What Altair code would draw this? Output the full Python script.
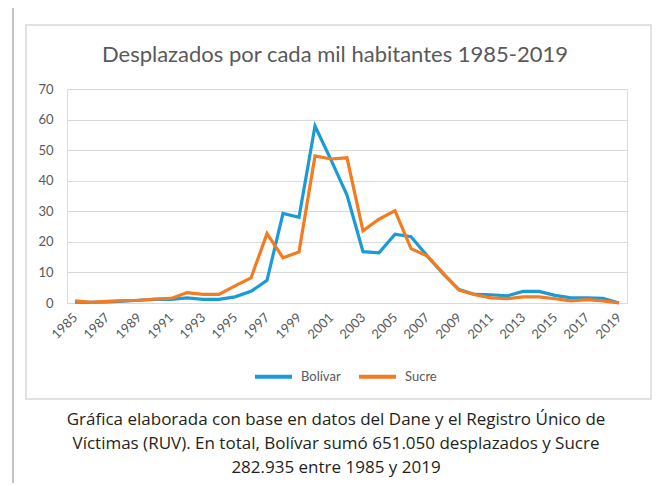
import altair as alt
import pandas as pd

years = list(range(1985, 2020))
bolivar = [0.3, 0.2, 0.4, 0.6, 0.9, 1.2, 1.2, 1.7, 1.2, 1.2, 2.0, 3.8, 7.4, 29.3, 28.0,
           57.9, 46.8, 35.3, 16.8, 16.4, 22.5, 21.7, 15.5, 9.6, 4.4, 2.8, 2.7, 2.3, 3.8,
           3.8, 2.5, 1.7, 1.7, 1.5, 0.0]
sucre = [0.7, 0.2, 0.5, 0.8, 0.9, 1.3, 1.5, 3.4, 2.8, 2.8, 5.6, 8.2, 22.7, 14.8, 16.7,
         48.1, 47.1, 47.5, 23.6, 27.4, 30.2, 17.8, 15.4, 9.8, 4.2, 2.7, 1.7, 1.4, 2.0,
         2.0, 1.4, 0.7, 1.1, 0.7, 0.0]
series_names = ["Bolívar", "Sucre"]
series_colors = ["#1b9ad8", "#f47b20"]
title_text = "Desplazados por cada mil habitantes 1985-2019"
caption_lines = [
    "Gráfica elaborada con base en datos del  Dane y el Registro Único de",
    "Víctimas (RUV). En total, Bolívar sumó 651.050  desplazados y  Sucre",
    "282.935 entre 1985 y 2019",
]

rows = []
for y, b, s in zip(years, bolivar, sucre):
    rows.append({"year": y, "value": b, "serie": "Bolívar"})
    rows.append({"year": y, "value": s, "serie": "Sucre"})
df = pd.DataFrame(rows)

W, H = 560, 214
FONT = "Lato"
GRAY = "#595959"

lines = alt.Chart(df).mark_line(strokeWidth=3.2).encode(
    x=alt.X("year:O",
            scale=alt.Scale(type="point", padding=0.5),
            axis=alt.Axis(values=years[::2], labelAngle=-45, labelAlign="right",
                          labelBaseline="middle", labelPadding=12, ticks=False,
                          domain=True, domainColor="#d9d9d9", grid=False,
                          labelFont=FONT, labelFontSize=13, labelColor=GRAY,
                          title=None)),
    y=alt.Y("value:Q",
            scale=alt.Scale(domain=[0, 70], nice=False),
            axis=alt.Axis(values=list(range(0, 71, 10)), ticks=False, domain=False,
                          gridColor="#d9d9d9", gridWidth=1, labelPadding=14,
                          labelFont=FONT, labelFontSize=13, labelColor=GRAY,
                          title=None)),
    color=alt.Color("serie:N",
                    scale=alt.Scale(domain=series_names, range=series_colors),
                    legend=alt.Legend(orient="none", legendX=186, legendY=267,
                                      direction="horizontal", title=None,
                                      symbolType="stroke", symbolSize=1369,
                                      symbolStrokeWidth=4, labelFont=FONT,
                                      labelFontSize=13, labelColor=GRAY,
                                      labelOffset=7, columnPadding=10)),
)

one = alt.Data(values=[{"k": 1}])

inner_box = alt.Chart(one).mark_rect(fill=None, stroke="#d9d9d9", strokeWidth=1.5).encode(
    x=alt.value(-41), x2=alt.value(584), y=alt.value(-64), y2=alt.value(310))

outer_rules = [
    alt.Chart(one).mark_rule(color="#b0b0b0", strokeWidth=1.5).encode(
        x=alt.value(-54), y=alt.value(-82), y2=alt.value(394)),
    alt.Chart(one).mark_rule(color="#b0b0b0", strokeWidth=1.5).encode(
        x=alt.value(-54), x2=alt.value(595), y=alt.value(-82)),
    alt.Chart(one).mark_rule(color="#b0b0b0", strokeWidth=1.5).encode(
        x=alt.value(595), y=alt.value(-82), y2=alt.value(394)),
]

title = alt.Chart(one).mark_text(font=FONT, fontSize=22, color=GRAY,
                                 align="center", baseline="middle").encode(
    x=alt.value(268), y=alt.value(-34), text=alt.value(title_text))

caption = [
    alt.Chart(one).mark_text(font="Open Sans", fontSize=17, color="#231f20",
                             align="center", baseline="middle").encode(
        x=alt.value(269), y=alt.value(331 + 24 * i), text=alt.value(t))
    for i, t in enumerate(caption_lines)
]

chart = alt.layer(inner_box, *outer_rules, lines, title, *caption).properties(
    width=W, height=H,
    autosize=alt.AutoSizeParams(type="none"),
    padding={"left": 59, "top": 81, "right": 30, "bottom": 180},
).configure_view(stroke=None).configure(background="white")

chart.save("out.html", embed_options={"renderer": "svg", "actions": False})
